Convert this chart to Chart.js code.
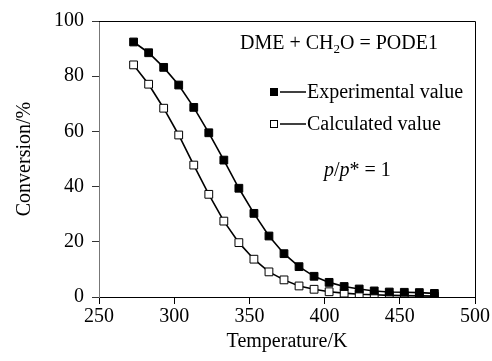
<!DOCTYPE html>
<html>
<head>
<meta charset="utf-8">
<script src="https://cdn.jsdelivr.net/npm/chart.js@4/dist/chart.umd.min.js"></script>
<style>
  html, body { margin: 0; padding: 0; background: #fff; }
  #wrap { width: 492px; height: 361px; }
</style>
</head>
<body>
<div id="wrap"><canvas id="c" width="492" height="361"></canvas></div>
<script>
const temperatures = [273, 283, 293, 303, 313, 323, 333, 343, 353, 363, 373, 383, 393, 403, 413, 423, 433, 443, 453, 463, 473];
const experimental = [92.4, 88.5, 83.2, 76.8, 68.7, 59.5, 49.6, 39.4, 30.3, 22.1, 15.7, 11.0, 7.5, 5.3, 3.8, 2.9, 2.2, 1.8, 1.7, 1.6, 1.3];
const calculated   = [84.1, 77.1, 68.4, 58.7, 47.8, 37.2, 27.5, 19.7, 13.7, 9.1, 6.2, 4.0, 2.8, 1.9, 1.4, 1.0, 0.8, 0.6, 0.5, 0.4, 0.3];
const xTicks = [250, 300, 350, 400, 450, 500];
const yTicks = [0, 20, 40, 60, 80, 100];
const seriesNames = ['Experimental value', 'Calculated value'];
const equationLeft = 'DME + CH';
const equationSub = '2';
const equationRight = 'O = PODE1';
const xTitle = 'Temperature/K';
const yTitle = 'Conversion/%';

const FONT = '"Liberation Serif", "Times New Roman", serif';
const FS = 20;

function pts(vals) { return temperatures.map((t, i) => ({x: t, y: vals[i]})); }

const framePlugin = {
  id: 'frame',
  afterDraw(chart) {
    const {ctx, chartArea: a} = chart;
    ctx.save();
    ctx.strokeStyle = '#000';
    ctx.lineWidth = 1;
    ctx.beginPath();
    ctx.moveTo(a.left, a.top + 0.5);
    ctx.lineTo(a.right + 0.5, a.top + 0.5);
    ctx.lineTo(a.right + 0.5, a.bottom);
    ctx.stroke();

    // equation
    ctx.fillStyle = '#000';
    ctx.textBaseline = 'alphabetic';
    ctx.textAlign = 'left';
    ctx.font = FS + 'px ' + FONT;
    let x = 240, y = 49;
    ctx.fillText(equationLeft, x, y);
    x += ctx.measureText(equationLeft).width;
    ctx.font = '13px ' + FONT;
    ctx.fillText(equationSub, x, y + 4);
    x += ctx.measureText(equationSub).width;
    ctx.font = FS + 'px ' + FONT;
    ctx.fillText(equationRight, x, y);

    // legend
    const rows = [
      {ds: chart.data.datasets[0], y: 92},
      {ds: chart.data.datasets[1], y: 124}
    ];
    rows.forEach(r => {
      const sx = 274, s = 8;
      ctx.fillStyle = r.ds.pointBackgroundColor;
      ctx.fillRect(sx - s/2, r.y - s/2, s, s);
      ctx.strokeStyle = '#000';
      ctx.lineWidth = 1;
      ctx.strokeRect(sx - s/2 + 0.5, r.y - s/2 + 0.5, s - 1, s - 1);
      ctx.beginPath();
      ctx.lineWidth = 1.5;
      ctx.moveTo(sx + 6, r.y);
      ctx.lineTo(sx + 32, r.y);
      ctx.stroke();
      ctx.fillStyle = '#000';
      ctx.font = FS + 'px ' + FONT;
      ctx.textBaseline = 'middle';
      ctx.fillText(r.ds.label, sx + 33, r.y + 1);
    });

    // p/p* = 1
    ctx.textBaseline = 'alphabetic';
    let px = 324, py = 176;
    ctx.font = 'italic ' + FS + 'px ' + FONT;
    ctx.fillText('p', px, py); px += ctx.measureText('p').width;
    ctx.font = FS + 'px ' + FONT;
    ctx.fillText('/', px, py); px += ctx.measureText('/').width;
    ctx.font = 'italic ' + FS + 'px ' + FONT;
    ctx.fillText('p', px, py); px += ctx.measureText('p').width;
    ctx.font = FS + 'px ' + FONT;
    ctx.fillText('* = 1', px, py);
    ctx.restore();
  }
};

new Chart(document.getElementById('c'), {
  type: 'scatter',
  data: {
    datasets: [
      {
        label: seriesNames[0],
        data: pts(experimental),
        showLine: true,
        borderColor: '#000',
        borderWidth: 1.6,
        pointStyle: 'rect',
        pointRadius: 5.5,
        pointHoverRadius: 5.5,
        pointBackgroundColor: '#000',
        pointBorderColor: '#000',
        pointBorderWidth: 1
      },
      {
        label: seriesNames[1],
        data: pts(calculated),
        showLine: true,
        borderColor: '#000',
        borderWidth: 1.6,
        pointStyle: 'rect',
        pointRadius: 5.5,
        pointHoverRadius: 5.5,
        pointBackgroundColor: '#fff',
        pointBorderColor: '#000',
        pointBorderWidth: 1
      }
    ]
  },
  options: {
    responsive: false,
    animation: false,
    events: [],
    layout: { padding: { top: 21, right: 17, left: 0, bottom: 0 } },
    plugins: { legend: { display: false }, tooltip: { enabled: false } },
    scales: {
      x: {
        type: 'linear',
        min: 250, max: 500,
        afterBuildTicks: s => { s.ticks = xTicks.map(v => ({value: v})); },
        afterFit: s => { s.height = 64; },
        grid: { drawOnChartArea: false, tickLength: 7, color: '#000', tickColor: '#000' },
        border: { color: '#000', width: 1 },
        ticks: { color: '#000', font: { family: FONT, size: FS }, padding: 1, maxRotation: 0 },
        title: { display: true, text: xTitle, color: '#000', font: { family: FONT, size: FS }, padding: { top: 0, bottom: 7 } }
      },
      y: {
        type: 'linear',
        min: 0, max: 100,
        afterBuildTicks: s => { s.ticks = yTicks.map(v => ({value: v})); },
        afterFit: s => { s.width = 99; },
        grid: { drawOnChartArea: false, tickLength: 7, color: '#000', tickColor: '#333' },
        border: { color: '#777', width: 1 },
        ticks: { color: '#000', font: { family: FONT, size: FS }, padding: 8 },
        title: { display: true, text: yTitle, color: '#000', font: { family: FONT, size: FS }, padding: { top: 13, bottom: 0 } }
      }
    }
  },
  plugins: [framePlugin]
});
</script>
</body>
</html>
